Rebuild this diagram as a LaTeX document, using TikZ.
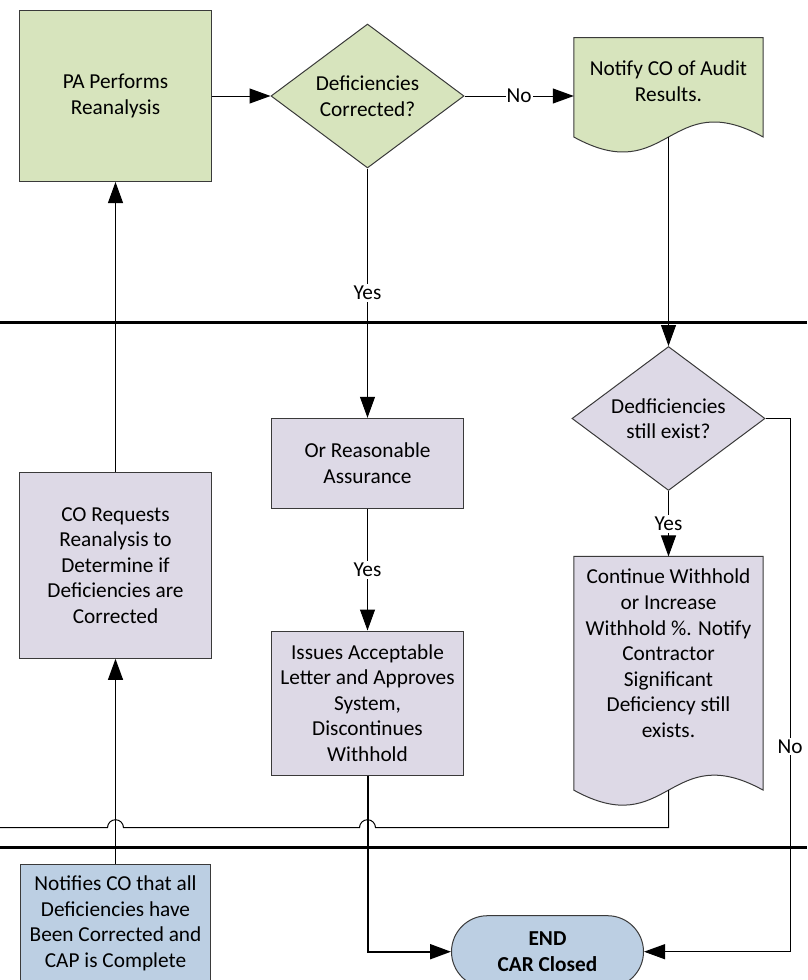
\documentclass[tikz,border=0pt]{standalone}
\usepackage{fontspec}
\setmainfont{Carlito}
\usetikzlibrary{shapes.geometric,arrows.meta,positioning}

\definecolor{procgreen}{HTML}{D7E4BD}
\definecolor{proclilac}{HTML}{DDD9E6}
\definecolor{procblue}{HTML}{BCCFE3}
\definecolor{edgegray}{HTML}{3A3A3A}

\tikzset{
  txt/.style={align=center, inner sep=0pt, font=\fontsize{21.3}{25.6}\selectfont},
  proc/.style={txt, rectangle, draw=edgegray, line width=1pt, minimum width=192pt},
  decide/.style={txt, diamond, aspect=1.34, draw=edgegray, line width=1pt, minimum width=193pt, minimum height=144pt},
  docbody/.style={rectangle, inner sep=0pt, minimum width=189pt},
  docline/.style={draw=edgegray, line width=1pt},
  term/.style={txt, rectangle, rounded corners=36pt, draw=edgegray, line width=1pt, fill=procblue, minimum width=192pt, minimum height=72pt, font=\fontsize{21.3}{25.6}\selectfont\bfseries},
  flow/.style={line width=1pt, -{Triangle[length=21pt,width=15pt]}},
  tag/.style={txt, fill=white, inner xsep=1pt, inner ysep=2pt},
  lane/.style={line width=2.6pt}
}

\begin{document}
\begin{tikzpicture}[x=1pt,y=-1pt]
\clip (0,0) rectangle (807,980);

\foreach \y in {322.7,847.3}
    \draw [lane] (0,\y) -- (807,\y);

\node [proc, fill=procgreen, minimum height=171pt] (pa) at (115.5,96) {PA Performs\\Reanalysis};
\node [decide, fill=procgreen] (corrected) at (367.5,96) {Deficiencies\\Corrected?};
\node [docbody, minimum height=99pt] (notify) at (668.5,87.3) {};
\draw [docline, fill=procgreen] (notify.north west) -- (notify.north east) -- (notify.south east)
    .. controls +(-94.5,-52) and +(94.5,52) .. (notify.south west) -- cycle;
\node [txt] (notifytext) at ([yshift=6pt]notify.center) {Notify CO of Audit\\Results.};

\node [decide, fill=proclilac] (exist) at (668.5,418.5) {Dedficiencies\\still exist?};
\node [proc, fill=proclilac, minimum height=90pt] (assure) at (367.5,463.3) {Or Reasonable\\Assurance};
\node [proc, fill=proclilac, minimum height=185.6pt] (request) at (115.5,565.5) {CO Requests\\Reanalysis to\\Determine if\\Deficiencies are\\Corrected};
\node [proc, fill=proclilac, minimum height=144pt] (approve) at (367.5,703) {Issues Acceptable\\Letter and Approves\\System,\\Discontinues\\Withhold};
\node [docbody, minimum height=233.3pt] (withhold) at (668.5,673.3) {};
\draw [docline, fill=proclilac] (withhold.north west) -- (withhold.north east) -- (withhold.south east)
    .. controls +(-94.5,-52) and +(94.5,52) .. (withhold.south west) -- cycle;
\node [txt] (withholdtext) at ([yshift=20pt]withhold.center) {Continue Withhold\\or Increase\\Withhold \%. Notify\\Contractor\\Significant\\Deficiency still\\exists.};

\node [proc, fill=procblue, minimum width=190pt, minimum height=118pt] (notifies) at (115.5,923.3) {Notifies CO that all\\Deficiencies have\\Been Corrected and\\CAP is Complete};
\node [term] (closed) at (547.5,951.7) {END\\CAR Closed};

\coordinate (noside) at (790,0);
\coordinate (loopend) at (0,827.7);

\draw [flow] (pa.east) -- (corrected.west);
\draw [flow] (corrected.east) -- (corrected.east -| notify.west) node [tag, midway] {No};
\draw [flow] (corrected.south) -- (assure.north) node [tag, midway] {Yes};
\draw [flow] (notify.south) -- (exist.north);
\draw [flow] (exist.south) -- (withhold.north) node [tag, midway] {Yes};
\draw [flow] (assure.south) -- (approve.north) node [tag, midway] {Yes};
\draw [flow] (exist.east) -- (exist.east -| noside) -- node [tag, pos=0.615] {No} (noside |- closed.east) -- (closed.east);
\draw [flow, line width=2pt] (approve.south) |- (closed.west);
\draw [flow] (notifies.north) -- (request.south);
\draw [flow] (request.north) -- (pa.south);
\draw [line width=1pt] (withhold.south) |- ([xshift=8pt]approve.south |- loopend)
    arc [start angle=0, end angle=-180, radius=8] -- ([xshift=8pt]request.south |- loopend)
    arc [start angle=0, end angle=-180, radius=8] -- (loopend);

\end{tikzpicture}
\end{document}
